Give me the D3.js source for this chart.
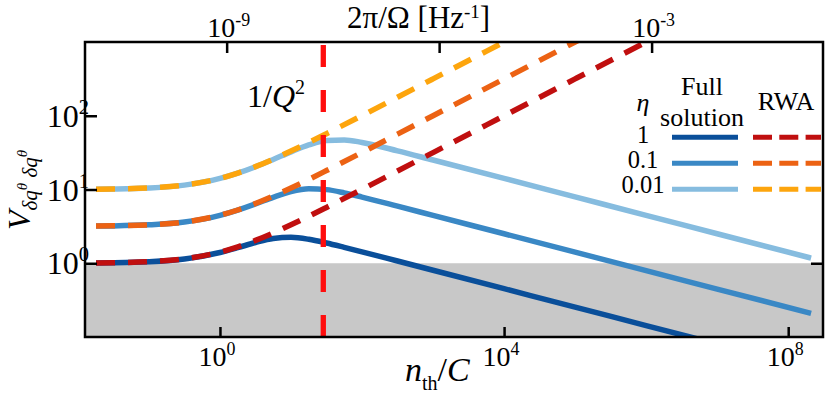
<!DOCTYPE html>
<html>
<head>
<meta charset="utf-8">
<script src="https://cdn.jsdelivr.net/npm/d3@7"></script>
<style>
  body { margin: 0; background: #fff; }
</style>
</head>
<body>
<svg id="chart" width="828" height="394"></svg>
<script>
// n_th / C sample points (full solution)
const nFull = [0.018, 0.0316, 0.1, 0.316, 1, 1.78, 3.16, 5.62, 10, 17.8, 31.6, 56.2, 100, 316, 1000, 1e4, 1e5, 1e6, 1e7, 2.1e8];
const full1 = [1.009, 1.015, 1.048, 1.144, 1.40, 1.626, 1.91, 2.167, 2.245, 2.112, 1.882, 1.644, 1.428, 1.072, 0.804, 0.452, 0.254, 0.143, 0.0804, 0.0376];
const full01 = [3.19, 3.21, 3.32, 3.62, 4.46, 5.25, 6.37, 7.83, 9.36, 10.23, 9.96, 9.01, 7.90, 5.95, 4.46, 2.512, 1.413, 0.794, 0.447, 0.209];
const full001 = [10.09, 10.16, 10.49, 11.47, 14.13, 16.66, 20.35, 25.55, 32.40, 40.24, 46.28, 47.03, 43.44, 33.44, 25.10, 14.13, 7.943, 4.467, 2.512, 1.175];

// RWA sample points
const nRwa = [0.018, 0.0316, 0.1, 0.316, 1, 1.78, 3.16, 5.62, 10, 17.8, 31.6, 100, 316, 1000, 1e4, 1e5, 1e6, 1.6e6];
const rwa1 = [1.009, 1.016, 1.049, 1.147, 1.414, 1.667, 2.040, 2.574, 3.317, 4.334, 5.712, 10.05, 17.81, 31.64, 100, 316.2, 1000, 1265];
const rwa01 = [3.190, 3.213, 3.317, 3.627, 4.472, 5.271, 6.451, 8.139, 10.49, 13.70, 18.06, 31.78, 56.32, 100.05, 316.2, 1000, 3162, 4000];
const rwa001 = [10.09, 10.16, 10.49, 11.47, 14.14, 16.67, 20.40, 25.74, 33.17, 43.34, 57.12, 100.5, 178.1, 316.4, 1000, 3162, 10000, 12650];

const etaLabels = ['1', '0.1', '0.01'];
const fullColors = ['#0a4f9a', '#3a88c5', '#86bcdf'];
const rwaColors = ['#c00f0f', '#ec6213', '#fda50d'];

const xTicks = [1, 1e4, 1e8];
const xTickExp = ['0', '4', '8'];
const yTicks = [1, 10, 100];
const yTickExp = ['0', '1', '2'];
const topTicks = [1e-9, 1e-6, 1e-3];
const topLabels = [[1e-9, '-9'], [1e-3, '-3']];
const qLine = 28.5; // 1/Q^2 position on n_th/C axis

const svg = d3.select('#chart')
  .style('font-family', "'Liberation Serif', Tinos, 'Times New Roman', 'DejaVu Serif', serif");
const pLeft = 85, pRight = 823, pTop = 42, pBottom = 337;

const x = d3.scaleLog().domain([Math.pow(10, -1.9), Math.pow(10, 8.49)]).range([pLeft, pRight]);
const xTop = d3.scaleLog().domain([1e-11, Math.pow(10, -0.58)]).range([pLeft, pRight]);
const y = d3.scaleLog().domain([0.1, 1000]).range([pBottom, pTop]);

svg.append('clipPath').attr('id', 'plot-clip')
  .append('rect')
  .attr('x', pLeft).attr('y', pTop)
  .attr('width', pRight - pLeft).attr('height', pBottom - pTop);

// shaded region below 1
svg.append('rect')
  .attr('x', pLeft).attr('y', y(1))
  .attr('width', pRight - pLeft).attr('height', pBottom - y(1))
  .attr('fill', '#c8c8c8');

const plot = svg.append('g').attr('clip-path', 'url(#plot-clip)');

const line = d3.line()
  .x(d => x(d[0]))
  .y(d => y(d[1]))
  .curve(d3.curveMonotoneX);

[full1, full01, full001].forEach((vals, i) => {
  plot.append('path')
    .datum(nFull.map((n, j) => [n, vals[j]]))
    .attr('d', line)
    .attr('fill', 'none')
    .attr('stroke', fullColors[i])
    .attr('stroke-width', 5.5);
});

[rwa1, rwa01, rwa001].forEach((vals, i) => {
  plot.append('path')
    .datum(nRwa.map((n, j) => [n, vals[j]]))
    .attr('d', line)
    .attr('fill', 'none')
    .attr('stroke', rwaColors[i])
    .attr('stroke-width', 5.5)
    .attr('stroke-dasharray', '19,13');
});

// 1/Q^2 marker
plot.append('line')
  .attr('x1', x(qLine)).attr('x2', x(qLine))
  .attr('y1', pBottom).attr('y2', pTop)
  .attr('stroke', '#ff0d0d')
  .attr('stroke-width', 5.3)
  .attr('stroke-dasharray', '22,23');

// frame
svg.append('rect')
  .attr('x', pLeft).attr('y', pTop)
  .attr('width', pRight - pLeft).attr('height', pBottom - pTop)
  .attr('fill', 'none')
  .attr('stroke', '#000')
  .attr('stroke-width', 2.5);

function tickAxis(axis, transform) {
  const g = svg.append('g').attr('transform', transform).call(axis);
  g.select('.domain').remove();
  g.selectAll('.tick line').attr('stroke', '#000').attr('stroke-width', 2.5);
  g.selectAll('.tick text').remove();
}

tickAxis(d3.axisBottom(x).tickValues(xTicks).tickSize(-10), `translate(0,${pBottom})`);
tickAxis(d3.axisTop(xTop).tickValues(topTicks).tickSize(-11), `translate(0,${pTop})`);
tickAxis(d3.axisLeft(y).tickValues(yTicks).tickSize(-12), `translate(${pLeft},0)`);
tickAxis(d3.axisRight(y).tickValues([1]).tickSize(-12), `translate(${pRight},0)`);

function powLabel(px, py, exp, anchor, size) {
  const t = svg.append('text')
    .attr('x', px).attr('y', py)
    .attr('text-anchor', anchor)
    .style('font-size', size + 'px');
  t.append('tspan').text('10');
  t.append('tspan').attr('dy', -size * 0.4).style('font-size', (size * 0.64) + 'px').text(exp);
}

xTicks.forEach((v, i) => powLabel(x(v) - 3, 366, xTickExp[i], 'middle', 28));
yTicks.forEach((v, i) => powLabel(89, y(v) + 11, yTickExp[i], 'end', 32));
topLabels.forEach(d => powLabel(xTop(d[0]) + 2, 37, d[1], 'middle', 28));

// axis titles
const xTitle = svg.append('text').attr('x', 405).attr('y', 381).style('font-size', '34px');
xTitle.append('tspan').style('font-style', 'italic').text('n');
xTitle.append('tspan').attr('dy', 9).style('font-size', '20px').text('th');
xTitle.append('tspan').attr('dy', -9).text('/');
xTitle.append('tspan').style('font-style', 'italic').text('C');

const topTitle = svg.append('text').attr('x', 347).attr('y', 28).style('font-size', '31px');
topTitle.append('tspan').text('2π/Ω [Hz');
topTitle.append('tspan').attr('dy', -10).style('font-size', '19px').text('-1');
topTitle.append('tspan').attr('dy', 10).text(']');

const yTitle = svg.append('text')
  .attr('transform', 'translate(30,190) rotate(-90)')
  .attr('text-anchor', 'middle')
  .style('font-style', 'italic');
yTitle.append('tspan').style('font-size', '32px').text('V');
yTitle.append('tspan').attr('dy', 7).style('font-size', '21px').text('δq');
yTitle.append('tspan').attr('dy', -10).style('font-size', '15px').text('θ');
yTitle.append('tspan').attr('dy', 10).style('font-size', '21px').text(' δq');
yTitle.append('tspan').attr('dy', -10).style('font-size', '15px').text('θ');

const qLabel = svg.append('text').attr('x', 247).attr('y', 107).style('font-size', '32px');
qLabel.append('tspan').text('1/');
qLabel.append('tspan').style('font-style', 'italic').text('Q');
qLabel.append('tspan').attr('dy', -13).style('font-size', '20px').text('2');

// legend
const legend = svg.append('g').style('font-size', '26px');
legend.append('text').attr('x', 702).attr('y', 95).attr('text-anchor', 'middle').text('Full');
legend.append('text').attr('x', 702).attr('y', 126).attr('text-anchor', 'middle').text('solution');
legend.append('text').attr('x', 786).attr('y', 110).attr('text-anchor', 'middle').text('RWA');
legend.append('text').attr('x', 643).attr('y', 111).attr('text-anchor', 'middle')
  .style('font-style', 'italic').text('η');

const rowY = [137.3, 163.3, 189.3];
const rowBase = [143, 168, 193];
etaLabels.forEach((lab, i) => {
  legend.append('text').attr('x', 643).attr('y', rowBase[i]).attr('text-anchor', 'middle')
    .style('font-size', '24.5px').text(lab);
  legend.append('line')
    .attr('x1', 672).attr('x2', 738)
    .attr('y1', rowY[i]).attr('y2', rowY[i])
    .attr('stroke', fullColors[i]).attr('stroke-width', 5);
  legend.append('line')
    .attr('x1', 753).attr('x2', 821)
    .attr('y1', rowY[i]).attr('y2', rowY[i])
    .attr('stroke', rwaColors[i]).attr('stroke-width', 5)
    .attr('stroke-dasharray', '19,7.3');
});
</script>
</body>
</html>
